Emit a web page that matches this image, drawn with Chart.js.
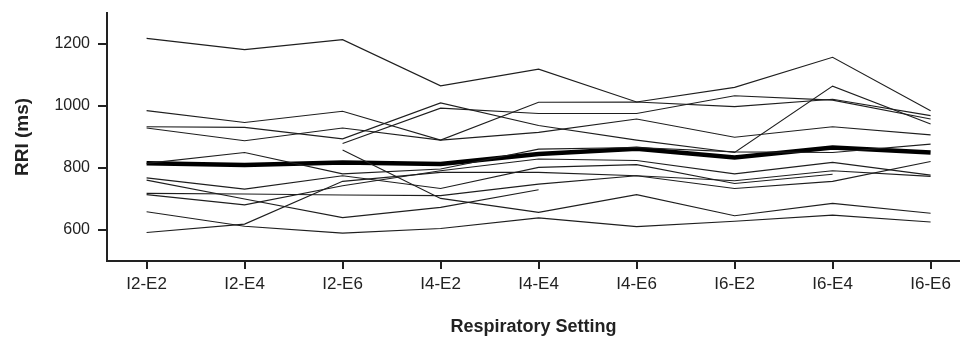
<!DOCTYPE html>
<html>
<head>
<meta charset="utf-8">
<script src="https://cdn.jsdelivr.net/npm/chart.js@4.4.1/dist/chart.umd.min.js"></script>
<style>
  html, body { margin: 0; padding: 0; background: #fff; }
  canvas { display: block; }
</style>
</head>
<body>
<canvas id="rriChart" width="960" height="339"></canvas>
<script>
// respiratory settings on the x axis
const settings = ["I2-E2", "I2-E4", "I2-E6", "I4-E2", "I4-E4", "I4-E6", "I6-E2", "I6-E4", "I6-E6"];
const yTicks = [600, 800, 1000, 1200];

// RRI (ms) per subject, null where no recording
const subj01 = [1218, 1182, 1214, 1065, 1119, 1013, 1060, 1157, 985];
const subj02 = [985, 947, 983, 890, 1012, 1013, 998, 1022, 969];
const subj03 = [933, 931, 894, 1010, 937, 890, 850, 1064, 942];
const subj04 = [929, 888, 929, 890, 915, 958, 899, 933, 907];
const subj05 = [null, null, 879, 993, 976, 976, 1033, 1019, 958];
const subj06 = [815, 850, 781, 797, 861, 866, 852, 850, 877];
const subj07 = [768, 732, 775, 734, 802, 811, 750, 780, null];
const subj08 = [761, 700, 640, 673, 730, null, null, null, null];
const subj09 = [718, 716, 713, 711, 748, 775, 734, 757, 821];
const subj10 = [714, 681, 743, 791, 829, 824, 781, 818, 777];
const subj11 = [659, 612, 590, 605, 639, 611, 628, 648, 626];
const subj12 = [592, 619, 757, 786, 786, 775, 759, 791, 773];
const subj13 = [null, null, 858, 702, 657, 714, 646, 686, 654];
const meanRRI = [815, 810, 818, 813, 845, 862, 834, 866, 850];

const subjects = [subj01, subj02, subj03, subj04, subj05, subj06, subj07,
                  subj08, subj09, subj10, subj11, subj12, subj13];

const toPoints = arr => arr.map((v, i) => ({ x: i, y: v }));

const datasets = subjects.map((s, k) => ({
    label: "Subject " + (k + 1),
    data: toPoints(s),
    borderColor: '#1e1e1e',
    borderWidth: 1.1,
    pointRadius: 0,
    tension: 0,
    spanGaps: false
}));
datasets.push({
    label: "Mean",
    data: toPoints(meanRRI),
    borderColor: '#000',
    borderWidth: 4.5,
    pointRadius: 0,
    tension: 0
});

const ctx = document.getElementById("rriChart").getContext("2d");
new Chart(ctx, {
    type: 'line',
    data: { datasets: datasets },
    options: {
        responsive: false,
        animation: false,
        devicePixelRatio: 1,
        layout: { padding: { top: 13, right: 0, left: 0, bottom: 0 } },
        plugins: { legend: { display: false }, tooltip: { enabled: false } },
        scales: {
            x: {
                type: 'linear',
                min: -0.404,
                max: 8.30,
                afterBuildTicks: s => { s.ticks = settings.map((_, i) => ({ value: i })); },
                afterFit: s => { s.height = 78; s.paddingLeft = 0; s.paddingRight = 0; },
                ticks: {
                    callback: v => settings[v],
                    color: '#222',
                    font: { family: "'Liberation Sans', Arial", size: 17 },
                    padding: 5,
                    maxRotation: 0,
                    autoSkip: false
                },
                grid: { display: true, drawOnChartArea: false, drawTicks: true, tickLength: 8, color: '#222', lineWidth: 2 },
                border: { display: true, color: '#222', width: 2 },
                title: {
                    display: true,
                    text: 'Respiratory Setting',
                    color: '#222',
                    font: { family: "'Liberation Sans', Arial", size: 18, weight: 'bold' },
                    padding: { top: 0, bottom: 1 }
                }
            },
            y: {
                type: 'linear',
                min: 500,
                max: 1300,
                afterBuildTicks: s => { s.ticks = yTicks.map(v => ({ value: v })); },
                afterFit: s => { s.width = 107; s.paddingTop = 0; s.paddingBottom = 0; },
                ticks: {
                    callback: v => String(v),
                    color: '#222',
                    font: { family: "'Liberation Sans', Arial", size: 16 },
                    padding: 8
                },
                grid: { display: true, drawOnChartArea: false, drawTicks: true, tickLength: 9, color: '#222', lineWidth: 2 },
                border: { display: true, color: '#222', width: 2 },
                title: {
                    display: true,
                    text: 'RRI (ms)',
                    color: '#222',
                    font: { family: "'Liberation Sans', Arial", size: 19, weight: 'bold' },
                    padding: { top: 11, bottom: 0 }
                }
            }
        }
    }
});
</script>
</body>
</html>
